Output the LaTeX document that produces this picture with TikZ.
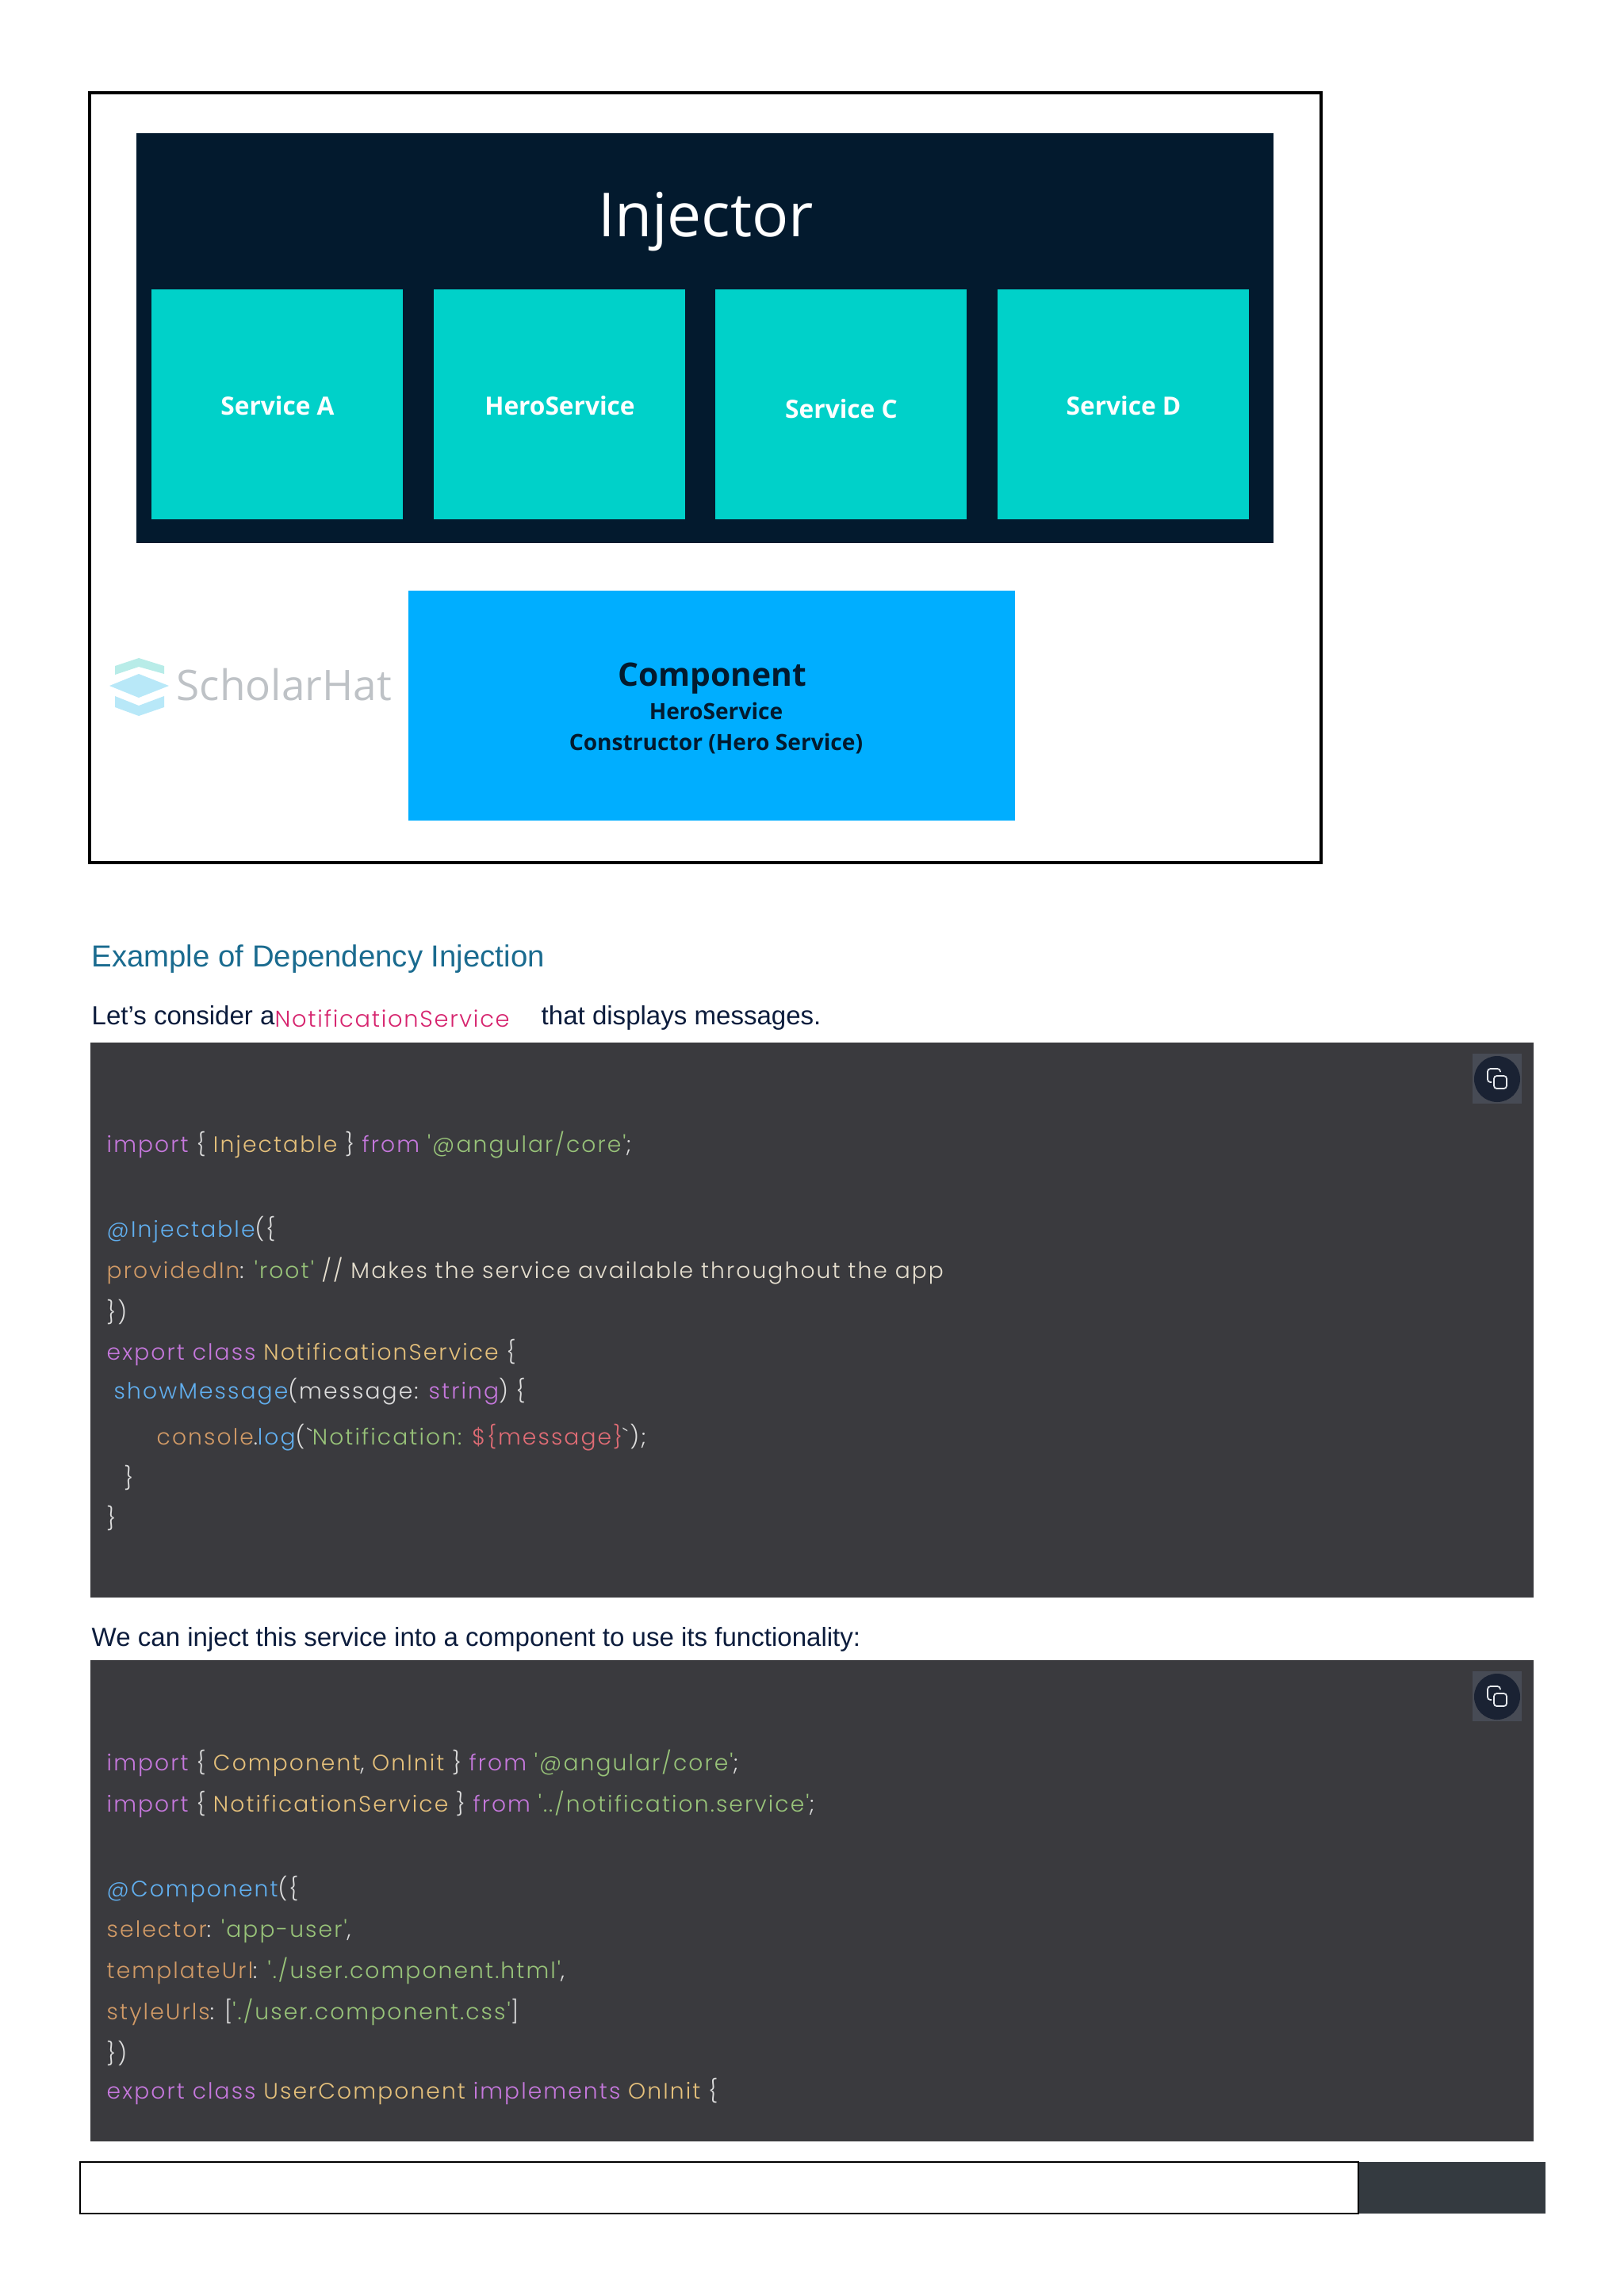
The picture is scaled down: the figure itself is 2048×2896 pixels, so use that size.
\documentclass[tikz,border=0pt]{standalone}
\usepackage{fontspec}
\setmainfont{Liberation Sans}
\newfontfamily\slidefont{Open Sans}
\newfontfamily\codefont{Poppins Light}[LetterSpace=7.5]
\newfontfamily\inlinefont{Poppins Light}[LetterSpace=6]
\definecolor{inkjet}{HTML}{031A2E}
\definecolor{tealbox}{HTML}{00D1C9}
\definecolor{bluebox}{HTML}{00AEFF}
\definecolor{logogray}{HTML}{BEC2C6}
\definecolor{logotop}{HTML}{B8ECE8}
\definecolor{logomid}{HTML}{B8E8F8}
\definecolor{headcol}{HTML}{1A6B8F}
\definecolor{bodycol}{HTML}{0C1C3C}
\definecolor{pinkcol}{HTML}{D6246E}
\definecolor{codebg}{HTML}{3A3A3E}
\definecolor{barcol}{HTML}{343A40}
\definecolor{copysq}{HTML}{474B55}
\definecolor{copycirc}{HTML}{1A2233}
\definecolor{copyline}{HTML}{E8EBF0}
\definecolor{plain}{HTML}{DCDCDC}
\definecolor{kw}{HTML}{C678DD}
\definecolor{ty}{HTML}{E5C07B}
\definecolor{strg}{HTML}{98C379}
\definecolor{fnc}{HTML}{61AFEF}
\definecolor{prop}{HTML}{D19A66}
\definecolor{vari}{HTML}{E06C75}
\definecolor{note}{HTML}{E6DFCF}
\tikzset{
    txt/.style={inner sep=0pt, anchor=base west},
    svc/.style={inner sep=0pt, anchor=base, text=white, font=\slidefont\bfseries\fontsize{9}{11}\selectfont},
    cmp/.style={inner sep=0pt, anchor=base, text=inkjet, font=\slidefont\bfseries\fontsize{8}{10}\selectfont},
    body/.style={txt, text=bodycol, font=\fontsize{9.4}{11}\selectfont},
    code/.style={txt, text=plain, font=\codefont\fontsize{8}{9}\selectfont},
}
\begin{document}
\begin{tikzpicture}[x=0.01cm, y=-0.01cm]
    \useasboundingbox (0,0) rectangle (2048,2896);
    % picture frame
    \draw[line width=0.9pt] (113,117) rectangle (1666,1088);
    \fill[inkjet] (172,168) rectangle (1606,685);
    \node[inner sep=0pt, anchor=base, text=white, font=\slidefont\fontsize{21.8}{26}\selectfont] (injector) at (890,298) {Injector};
    \foreach \bx/\nm/\lb/\ly in {191/svca/Service A/523, 547/hero/HeroService/523, 902/svcc/Service C/527, 1258/svcd/Service D/523} {
        \fill[tealbox] (\bx,365) rectangle (\bx+317,655);
        \node[svc] (\nm) at (\bx+159,\ly) {\lb};
    }
    \fill[bluebox] (515,745) rectangle (1280,1035);
    \node[cmp, font=\slidefont\bfseries\fontsize{11.6}{14}\selectfont] (comp) at (898,865) {Component};
    \node[cmp] (comphero) at (903,907) {HeroService};
    \node[cmp] (compctor) at (903,946) {Constructor (Hero Service)};
    % logo
    \fill[logotop] (145,840) -- (175,830) -- (207,840) -- (207,850) -- (175,841) -- (145,851) -- cycle;
    \fill[logomid] (138,865) -- (175,850) -- (213,865) -- (175,880) -- cycle;
    \fill[logomid] (145,878) -- (175,890) -- (207,878) -- (207,892) -- (175,903) -- (145,892) -- cycle;
    \node[txt, text=logogray, font=\slidefont\fontsize{15.1}{18}\selectfont] (logo) at (222,883) {ScholarHat};
    % text
    \node[txt, text=headcol, font=\fontsize{10.9}{13}\selectfont] (heading) at (115,1219) {Example of Dependency Injection};
    \node[body] (lets) at (115,1292) {Let’s consider a};
    \node[txt, text=pinkcol, font=\inlinefont\fontsize{8.2}{10}\selectfont] (inlinecode) at (346,1295) {NotificationService};
    \node[body] (lets2) at (682,1292) {that displays messages.};
    % code blocks
    \fill[codebg] (114,1315) rectangle (1934,2015);
    \node[body] (wecan) at (115,2076) {We can inject this service into a component to use its functionality:};
    \fill[codebg] (114,2094) rectangle (1934,2701);
    \foreach \by in {1314,2093} {
        \fill[copysq] (1857,\by+15) rectangle (1919,\by+78);
        \fill[copycirc] (1888,\by+47) circle (29);
        \draw[copyline, line width=0.5pt, rounded corners=1pt] (1892,\by+38) -- (1892,\by+34) -- (1876,\by+34) -- (1876,\by+51) -- (1881,\by+51);
        \draw[copyline, line width=0.5pt, rounded corners=1pt] (1884,\by+43) rectangle (1900,\by+59);
    }
    \node[code] (a1) at (134,1453) {\textcolor{kw}{import} \{ \textcolor{ty}{Injectable} \} \textcolor{kw}{from} \textcolor{strg}{'@angular/core'};};
    \node[code] (a2) at (134,1560) {\textcolor{fnc}{@Injectable}(\{};
    \node[code] (a3) at (134,1612) {\textcolor{prop}{providedIn}: \textcolor{strg}{'root'} \textcolor{note}{// Makes the service available throughout the app}};
    \node[code] (a4) at (134,1665) {\})};
    \node[code] (a5) at (134,1715) {\textcolor{kw}{export class} \textcolor{ty}{NotificationService} \{};
    \node[code] (a6) at (143,1764) {\textcolor{fnc}{showMessage}(message: \textcolor{kw}{string}) \{};
    \node[code] (a7) at (197,1822) {\textcolor{prop}{console}.\textcolor{fnc}{log}(`\textcolor{strg}{Notification: }\textcolor{vari}{\$\{message\}}`);};
    \node[code] (a8) at (156,1874) {\}};
    \node[code] (a9) at (134,1925) {\}};
    \node[code] (b1) at (134,2233) {\textcolor{kw}{import} \{ \textcolor{ty}{Component}, \textcolor{ty}{OnInit} \} \textcolor{kw}{from} \textcolor{strg}{'@angular/core'};};
    \node[code] (b2) at (134,2285) {\textcolor{kw}{import} \{ \textcolor{ty}{NotificationService} \} \textcolor{kw}{from} \textcolor{strg}{'../notification.service'};};
    \node[code] (b3) at (134,2392) {\textcolor{fnc}{@Component}(\{};
    \node[code] (b4) at (134,2443) {\textcolor{prop}{selector}: \textcolor{strg}{'app-user'},};
    \node[code] (b5) at (134,2495) {\textcolor{prop}{templateUrl}: \textcolor{strg}{'./user.component.html'},};
    \node[code] (b6) at (134,2547) {\textcolor{prop}{styleUrls}: [\textcolor{strg}{'./user.component.css'}]};
    \node[code] (b7) at (134,2600) {\})};
    \node[code] (b8) at (134,2647) {\textcolor{kw}{export class} \textcolor{ty}{UserComponent} \textcolor{kw}{implements} \textcolor{ty}{OnInit} \{};
    % bottom bar
    \fill[barcol] (1713,2727) rectangle (1949,2792);
    \draw[line width=0.7pt] (101,2727) rectangle (1713,2792);
\end{tikzpicture}
\end{document}
